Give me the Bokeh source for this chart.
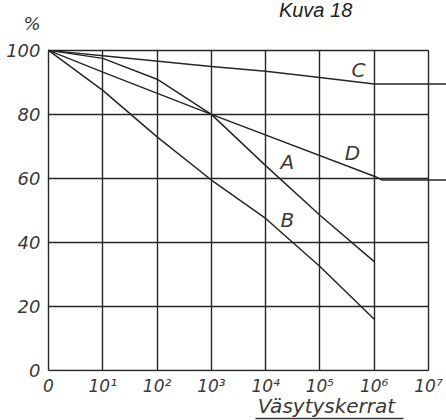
from bokeh.plotting import figure
from bokeh.models import FixedTicker, Label, Range1d, LinearAxis
from bokeh.core.properties import value
from bokeh.embed import file_html
from bokeh.resources import INLINE

# decades: 0 -> "0", 1 -> 10^1 ... 7 -> 10^7
x_ticks = [0, 1, 2, 3, 4, 5, 6, 7]
x_tick_labels = ["0", "10¹", "10²", "10³", "10⁴", "10⁵", "10⁶", "10⁷"]
y_ticks = [0, 20, 40, 60, 80, 100]
y_unit_pos = 108.4
y_unit = "%"
x_title = "Väsytyskerrat"
x_title_pos = 5.12
x_title_span = (3.81, 6.54)

a_x = [0, 1, 2, 3, 4, 5, 6]
a_y = [100, 97.5, 91, 80, 64, 48.5, 34]
b_x = [0, 1, 2, 3, 4, 5, 6]
b_y = [100, 87.5, 73, 59.5, 47.5, 32.5, 16]
c_x = [0, 1, 3, 4, 5, 6, 7.33]
c_y = [100, 98.3, 95, 93.5, 91.5, 89.5, 89.5]
d_x = [0, 1, 3, 6, 6.15, 7.33]
d_y = [100, 93.2, 80, 60.7, 59.5, 59.5]

curve_names = ["A", "B", "C", "D"]
name_x = [4.40, 4.40, 5.71, 5.60]
name_y = [65.1, 47.0, 93.8, 67.9]

INK = "#262626"
TXT = "#3a3a3a"
HAND = "DejaVu Sans"

p = figure(width=446, height=420, output_backend="svg", toolbar_location=None,
           x_range=Range1d(-0.0368, 7.3316), y_range=Range1d(-0.31, 115.58),
           min_border_left=46, min_border_right=0, min_border_top=0, min_border_bottom=48)
p.outline_line_color = None
p.background_fill_color = "white"
p.border_fill_color = "white"

p.xgrid.ticker = FixedTicker(ticks=x_ticks)
p.ygrid.ticker = FixedTicker(ticks=y_ticks)
for g in (p.xgrid, p.ygrid):
    g.grid_line_color = INK
    g.grid_line_width = 1.4
    g.grid_line_alpha = 1.0
p.xgrid.cross_bounds = (0, 100)
p.ygrid.cross_bounds = (0, 7)

p.xaxis.ticker = FixedTicker(ticks=x_ticks)
p.xaxis.major_label_overrides = {t: l for t, l in zip(x_ticks, x_tick_labels)}
p.yaxis.ticker = FixedTicker(ticks=y_ticks + [y_unit_pos])
p.yaxis.major_label_overrides = {y_unit_pos: y_unit}
for ax in (p.xaxis, p.yaxis):
    ax.axis_line_color = None
    ax.major_tick_line_color = None
    ax.minor_tick_line_color = None
    ax.major_tick_out = 0
    ax.major_tick_in = 0
    ax.major_label_text_font = HAND
    ax.major_label_text_font_style = "italic"
    ax.major_label_text_color = TXT
p.xaxis.major_label_text_font_size = "17px"
p.yaxis.major_label_text_font_size = "18px"
p.xaxis.major_label_standoff = 4
p.yaxis.major_label_standoff = 6
# blank axis label only reserves room so the next axis line sits under the title
p.xaxis.axis_label = " "
p.xaxis.axis_label_text_font_size = "16px"
p.xaxis.axis_label_standoff = 0

# axis title: extra bounded axis whose line is the underline, label pulled above it
ax2 = LinearAxis(ticker=FixedTicker(ticks=[x_title_pos]),
                 major_label_overrides={x_title_pos: x_title},
                 bounds=x_title_span,
                 axis_line_color=TXT, axis_line_width=1.4,
                 major_tick_line_color=None, minor_tick_line_color=None,
                 major_tick_out=0, major_tick_in=0, major_label_standoff=-25,
                 major_label_text_font=HAND, major_label_text_font_style="italic",
                 major_label_text_font_size="20px", major_label_text_color=TXT)
p.add_layout(ax2, "below")

for xs, ys in ((a_x, a_y), (b_x, b_y), (c_x, c_y), (d_x, d_y)):
    p.line(xs, ys, line_color=INK, line_width=1.5)

p.text(x=name_x, y=name_y, text=curve_names, text_font_size="20px",
       text_font_style="italic", text_color=TXT,
       text_align="center", text_baseline="middle", text_font=value(HAND))

p.add_layout(Label(x=4.92, y=112.5, text="Kuva 18", text_font="Liberation Sans",
                   text_font_style="italic", text_font_size="20px", text_color="#222222",
                   text_align="center", text_baseline="middle"))

open("out.html", "w").write(file_html(p, INLINE))
